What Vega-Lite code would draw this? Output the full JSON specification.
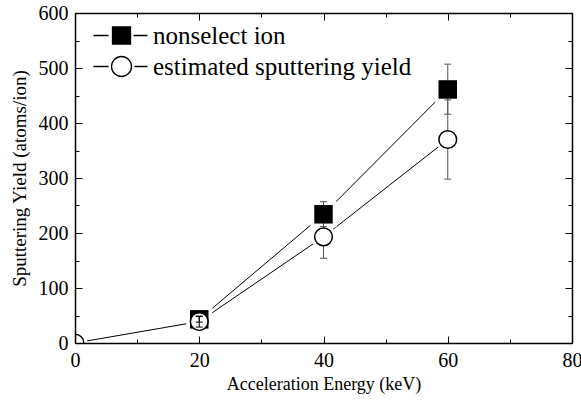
{
  "$schema": "https://vega.github.io/schema/vega-lite/v6.json",
  "width": 497,
  "height": 330,
  "autosize": {"type": "none"},
  "padding": {"left": 75, "top": 13, "right": 9, "bottom": 62},
  "background": "white",
  "config": {"view": {"stroke": null}, "font": "Liberation Serif, serif"},
  "data": {
    "values": [
      {"series": "nonselect ion", "energy": 20, "yield": 43, "lo": 38, "hi": 48},
      {"series": "nonselect ion", "energy": 40, "yield": 234, "lo": 212, "hi": 257},
      {"series": "nonselect ion", "energy": 60, "yield": 461, "lo": 416, "hi": 507},
      {"series": "estimated sputtering yield", "energy": 0, "yield": 0, "lo": 0, "hi": 0},
      {"series": "estimated sputtering yield", "energy": 20, "yield": 39, "lo": 29, "hi": 49},
      {"series": "estimated sputtering yield", "energy": 40, "yield": 193, "lo": 154, "hi": 232},
      {"series": "estimated sputtering yield", "energy": 60, "yield": 370, "lo": 298, "hi": 442}
    ]
  },
  "layer": [
    {
      "mark": {"type": "line", "color": "black", "strokeWidth": 1, "clip": true},
      "encoding": {
        "x": {"field": "energy", "type": "quantitative", "scale": {"domain": [0, 80], "nice": false, "zero": false},
          "axis": {"orient": "bottom", "values": [0, 10, 20, 30, 40, 50, 60, 70, 80],
            "labelExpr": "datum.value % 20 === 0 ? datum.label : ''",
            "tickSize": {"condition": {"test": "datum.value % 20 === 0", "value": -7}, "value": -4},
            "tickColor": "black", "tickWidth": 1, "domainColor": "black", "domainWidth": 1.5,
            "labelFont": "Liberation Serif, serif", "labelFontSize": 20, "labelColor": "black", "labelPadding": 14,
            "labelFlush": false, "labelOverlap": false, "grid": false,
            "title": "Acceleration Energy (keV)", "titleFont": "Liberation Serif, serif", "titleFontSize": 18,
            "titleFontWeight": "normal", "titleColor": "black", "titlePadding": 2, "zindex": 1}},
        "y": {"field": "yield", "type": "quantitative", "scale": {"domain": [0, 600], "nice": false},
          "axis": {"orient": "left", "values": [0, 50, 100, 150, 200, 250, 300, 350, 400, 450, 500, 550, 600],
            "labelExpr": "datum.value % 100 === 0 ? datum.label : ''",
            "tickSize": {"condition": {"test": "datum.value % 100 === 0", "value": -7}, "value": -4},
            "tickColor": "black", "tickWidth": 1, "domainColor": "black", "domainWidth": 1.5,
            "labelFont": "Liberation Serif, serif", "labelFontSize": 20, "labelColor": "black", "labelPadding": 14,
            "labelFlush": false, "labelOverlap": false, "grid": false,
            "title": "Sputtering Yield (atoms/ion)", "titleFont": "Liberation Serif, serif", "titleFontSize": 19,
            "titleFontWeight": "normal", "titleColor": "black", "titlePadding": 9, "zindex": 1}},
        "detail": {"field": "series", "type": "nominal"}
      }
    },
    {
      "transform": [{"filter": "datum.energy < 0"}],
      "mark": {"type": "point", "filled": true, "strokeWidth": 1.3, "size": 400, "opacity": 1},
      "encoding": {
        "x": {"field": "energy", "type": "quantitative",
          "axis": {"orient": "top", "values": [0, 10, 20, 30, 40, 50, 60, 70, 80], "labels": false,
            "tickSize": {"condition": {"test": "datum.value % 20 === 0", "value": -7}, "value": -4},
            "tickColor": "black", "tickWidth": 1, "domainColor": "black", "domainWidth": 1.5,
            "grid": false, "title": null, "zindex": 1}},
        "y": {"field": "yield", "type": "quantitative",
          "axis": {"orient": "right", "values": [0, 50, 100, 150, 200, 250, 300, 350, 400, 450, 500, 550, 600], "labels": false,
            "tickSize": {"condition": {"test": "datum.value % 100 === 0", "value": -7}, "value": -4},
            "tickColor": "black", "tickWidth": 1, "domainColor": "black", "domainWidth": 1.5,
            "grid": false, "title": null, "zindex": 1}},
        "shape": {"field": "series", "type": "nominal",
          "scale": {"domain": ["nonselect ion", "estimated sputtering yield"],
            "range": ["M-2.8,0H-1.3M1.2,0H2.6M-0.9,-0.85H0.9V0.85H-0.9Z",
                      "M-2.8,0H-1.3M1.3,0H2.6M1,0A1,1,0,1,1,-1,0A1,1,0,1,1,1,0Z"]},
          "legend": {"title": null, "orient": "none", "legendX": 34, "legendY": 10, "symbolSize": 400,
            "symbolStrokeWidth": 1.3, "labelFont": "Liberation Serif, serif",
            "labelFontSize": 25, "labelColor": "black", "labelOffset": 19, "rowPadding": 4, "padding": 0, "labelLimit": 0}},
        "fill": {"field": "series", "type": "nominal",
          "scale": {"domain": ["nonselect ion", "estimated sputtering yield"], "range": ["black", "white"]},
          "legend": {"title": null, "orient": "none", "legendX": 34, "legendY": 10, "symbolSize": 400,
            "symbolStrokeWidth": 1.3, "labelFont": "Liberation Serif, serif",
            "labelFontSize": 25, "labelColor": "black", "labelOffset": 19, "rowPadding": 4, "padding": 0, "labelLimit": 0}},
        "stroke": {"field": "series", "type": "nominal",
          "scale": {"domain": ["nonselect ion", "estimated sputtering yield"], "range": ["black", "black"]},
          "legend": {"title": null, "orient": "none", "legendX": 34, "legendY": 10, "symbolSize": 400,
            "symbolStrokeWidth": 1.3, "labelFont": "Liberation Serif, serif",
            "labelFontSize": 25, "labelColor": "black", "labelOffset": 19, "rowPadding": 4, "padding": 0, "labelLimit": 0}}
      }
    },
    {
      "transform": [{"filter": "datum.series === 'nonselect ion'"}],
      "mark": {"type": "point", "shape": "square", "filled": true, "fill": "white", "size": 676, "strokeWidth": 0, "opacity": 1, "clip": true},
      "encoding": {
        "x": {"field": "energy", "type": "quantitative", "axis": null},
        "y": {"field": "yield", "type": "quantitative", "axis": null}
      }
    },
    {
      "transform": [{"filter": "datum.series === 'estimated sputtering yield'"}],
      "mark": {"type": "point", "shape": "circle", "filled": true, "fill": "white", "size": 616, "strokeWidth": 0, "opacity": 1, "clip": true},
      "encoding": {
        "x": {"field": "energy", "type": "quantitative", "axis": null},
        "y": {"field": "yield", "type": "quantitative", "axis": null}
      }
    },
    {
      "transform": [{"filter": "datum.energy > 0"}],
      "mark": {"type": "rule", "color": "#555555", "strokeWidth": 1},
      "encoding": {
        "x": {"field": "energy", "type": "quantitative", "axis": null},
        "y": {"field": "lo", "type": "quantitative", "axis": null},
        "y2": {"field": "hi"}
      }
    },
    {
      "transform": [{"filter": "datum.energy > 0"}],
      "mark": {"type": "tick", "orient": "horizontal", "size": 7, "thickness": 1, "color": "#555555", "opacity": 1},
      "encoding": {
        "x": {"field": "energy", "type": "quantitative", "axis": null},
        "y": {"field": "lo", "type": "quantitative", "axis": null}
      }
    },
    {
      "transform": [{"filter": "datum.energy > 0"}],
      "mark": {"type": "tick", "orient": "horizontal", "size": 7, "thickness": 1, "color": "#555555", "opacity": 1},
      "encoding": {
        "x": {"field": "energy", "type": "quantitative", "axis": null},
        "y": {"field": "hi", "type": "quantitative", "axis": null}
      }
    },
    {
      "transform": [{"filter": "datum.series === 'nonselect ion'"}],
      "mark": {"type": "point", "shape": "square", "filled": true, "fill": "black", "size": 342, "strokeWidth": 0, "opacity": 1, "clip": true},
      "encoding": {
        "x": {"field": "energy", "type": "quantitative", "axis": null},
        "y": {"field": "yield", "type": "quantitative", "axis": null}
      }
    },
    {
      "transform": [{"filter": "datum.series === 'estimated sputtering yield'"}],
      "mark": {"type": "point", "shape": "circle", "filled": true, "fill": "white", "stroke": "black", "strokeWidth": 1.5, "size": 314, "opacity": 1, "clip": true},
      "encoding": {
        "x": {"field": "energy", "type": "quantitative", "axis": null},
        "y": {"field": "yield", "type": "quantitative", "axis": null}
      }
    },
    {
      "transform": [{"filter": "datum.energy == 20"}],
      "mark": {"type": "rule", "color": "black", "strokeWidth": 1},
      "encoding": {
        "x": {"field": "energy", "type": "quantitative", "axis": null},
        "y": {"field": "lo", "type": "quantitative", "axis": null},
        "y2": {"field": "hi"}
      }
    },
    {
      "transform": [{"filter": "datum.energy == 20"}],
      "mark": {"type": "tick", "orient": "horizontal", "size": 7, "thickness": 1, "color": "black", "opacity": 1},
      "encoding": {
        "x": {"field": "energy", "type": "quantitative", "axis": null},
        "y": {"field": "lo", "type": "quantitative", "axis": null}
      }
    },
    {
      "transform": [{"filter": "datum.energy == 20"}],
      "mark": {"type": "tick", "orient": "horizontal", "size": 7, "thickness": 1, "color": "black", "opacity": 1},
      "encoding": {
        "x": {"field": "energy", "type": "quantitative", "axis": null},
        "y": {"field": "hi", "type": "quantitative", "axis": null}
      }
    }
  ],
  "resolve": {"axis": {"x": "independent", "y": "independent"}}
}
